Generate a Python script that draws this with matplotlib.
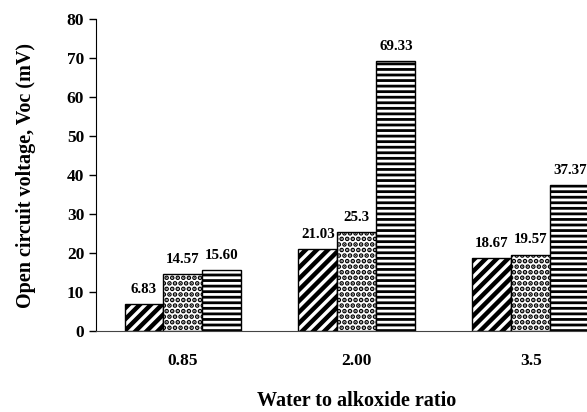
import numpy as np
import matplotlib
matplotlib.use('Agg')
import matplotlib.pyplot as plt

# Donnees
ratios = ['0.85', '2.00', '3.5']
serie_a = [6.83, 21.03, 18.67]
serie_b = [14.57, 25.3, 19.57]
serie_c = [15.60, 69.33, 37.37]
etiquettes_a = ['6.83', '21.03', '18.67']
etiquettes_b = ['14.57', '25.3', '19.57']
etiquettes_c = ['15.60', '69.33', '37.37']

plt.rcParams['font.family'] = 'Liberation Serif'
plt.rcParams['font.weight'] = 'bold'

fig = plt.figure(figsize=(5.87, 4.12), dpi=100)
ax = fig.add_axes([0.1635, 0.1966, 0.889, 0.7566])

x = np.arange(len(ratios))
w = 0.224

series = [(serie_a, etiquettes_a, '///', 3.2, -w),
          (serie_b, etiquettes_b, '...', 2.4, 0),
          (serie_c, etiquettes_c, '---', 2.0, w)]

for vals, labs, hatch, hlw, dx in series:
    with plt.rc_context({'hatch.linewidth': hlw}):
        bars = ax.bar(x + dx, vals, w, color='white', edgecolor='black',
                      linewidth=1.0, hatch=hatch)
    ax.bar_label(bars, labels=labs, padding=6, fontsize=10.8, fontweight='bold')

ax.set_xlim(-0.5, 2.5)
ax.set_ylim(0, 80)
ax.set_yticks(np.arange(0, 81, 10))
ax.set_xticks(x)
ax.set_xticklabels(ratios)
ax.tick_params(axis='x', length=0, pad=16, labelsize=12.5)
ax.tick_params(axis='y', length=5, width=1, labelsize=12.5)
for s in ['top', 'right']:
    ax.spines[s].set_visible(False)
ax.spines['left'].set_color('black')
ax.spines['bottom'].set_color('#444444')

ax.set_ylabel('Open circuit voltage, Voc (mV)', fontsize=14.5, fontweight='bold', labelpad=22)
ax.set_xlabel('Water to alkoxide ratio', fontsize=14.5, fontweight='bold', labelpad=16)

fig.savefig('out.png', dpi=100)
